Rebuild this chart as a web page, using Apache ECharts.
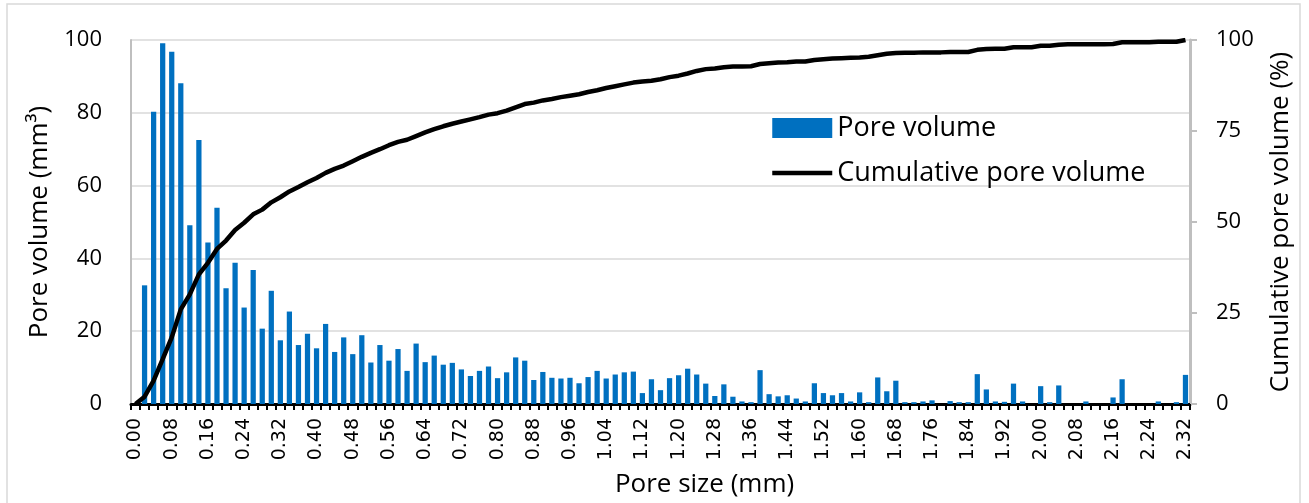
<!DOCTYPE html>
<html>
<head>
<meta charset="utf-8">
<script src="https://cdn.jsdelivr.net/npm/echarts@6/dist/echarts.min.js"></script>
<style>
  html, body { margin: 0; padding: 0; background: #fff; }
  #chart { width: 1309px; height: 503px; }
</style>
</head>
<body>
<div id="chart"></div>
<script>
// pore size classes (mm)
const poreSizes = [
  '0.00','0.02','0.04','0.06','0.08','0.10','0.12','0.14','0.16','0.18',
  '0.20','0.22','0.24','0.26','0.28','0.30','0.32','0.34','0.36','0.38',
  '0.40','0.42','0.44','0.46','0.48','0.50','0.52','0.54','0.56','0.58',
  '0.60','0.62','0.64','0.66','0.68','0.70','0.72','0.74','0.76','0.78',
  '0.80','0.82','0.84','0.86','0.88','0.90','0.92','0.94','0.96','0.98',
  '1.00','1.02','1.04','1.06','1.08','1.10','1.12','1.14','1.16','1.18',
  '1.20','1.22','1.24','1.26','1.28','1.30','1.32','1.34','1.36','1.38',
  '1.40','1.42','1.44','1.46','1.48','1.50','1.52','1.54','1.56','1.58',
  '1.60','1.62','1.64','1.66','1.68','1.70','1.72','1.74','1.76','1.78',
  '1.80','1.82','1.84','1.86','1.88','1.90','1.92','1.94','1.96','1.98',
  '2.00','2.02','2.04','2.06','2.08','2.10','2.12','2.14','2.16','2.18',
  '2.20','2.22','2.24','2.26','2.28','2.30','2.32'
];

// pore volume per class (mm3)
const poreVolume = [
  0, 32.6, 80.3, 99.1, 96.8, 88.1, 49.1, 72.5, 44.4, 53.9,
  31.8, 38.8, 26.5, 36.8, 20.7, 31.1, 17.5, 25.4, 16.2, 19.3,
  15.3, 22.0, 14.3, 18.3, 13.7, 18.9, 11.4, 16.2, 11.9, 15.1,
  9.1, 16.6, 11.5, 13.3, 10.8, 11.3, 9.5, 7.7, 9.1, 10.3,
  7.1, 8.7, 12.8, 11.9, 6.6, 8.8, 7.2, 7.0, 7.2, 5.7,
  7.4, 9.1, 7.0, 8.1, 8.7, 8.9, 3.0, 6.8, 3.8, 7.1,
  7.9, 9.7, 8.1, 5.6, 2.2, 5.4, 2.0, 0.7, 0.5, 9.3,
  2.7, 2.1, 2.4, 1.5, 0.7, 5.7, 3.0, 2.4, 3.0, 0.7,
  3.2, 0.5, 7.3, 3.5, 6.4, 0.5, 0.5, 0.7, 1.0, 0,
  0.8, 0.5, 0.5, 8.2, 4.0, 0.7, 0.6, 5.6, 0.7, 0,
  4.9, 0.5, 5.1, 0, 0, 0.7, 0, 0, 1.8, 6.8,
  0, 0, 0, 0.7, 0, 0.5, 8.0
];

// cumulative pore volume (%)
const cumulative = [
  0, 2.0, 6.4, 12.3, 18.3, 26.0, 30.1, 35.6, 38.8, 42.6,
  44.9, 47.8, 49.8, 52.1, 53.4, 55.4, 56.8, 58.4, 59.6, 60.9,
  62.1, 63.5, 64.6, 65.5, 66.7, 67.9, 69.0, 70.0, 71.1, 72.0,
  72.6, 73.6, 74.6, 75.5, 76.3, 77.0, 77.6, 78.2, 78.8, 79.5,
  79.9, 80.6, 81.5, 82.4, 82.8, 83.4, 83.8, 84.3, 84.7, 85.1,
  85.7, 86.2, 86.8, 87.3, 87.8, 88.3, 88.6, 88.8, 89.2, 89.8,
  90.2, 90.8, 91.5, 92.0, 92.2, 92.5, 92.7, 92.7, 92.8, 93.4,
  93.6, 93.8, 93.9, 94.1, 94.1, 94.5, 94.7, 94.9, 95.0, 95.1,
  95.2, 95.4, 95.8, 96.2, 96.4, 96.5, 96.5, 96.6, 96.6, 96.6,
  96.7, 96.7, 96.7, 97.3, 97.5, 97.6, 97.6, 98.0, 98.0, 98.0,
  98.4, 98.4, 98.7, 98.8, 98.8, 98.8, 98.8, 98.8, 98.9, 99.4,
  99.4, 99.4, 99.4, 99.5, 99.5, 99.5, 100
];

const FONT = '"Open Sans", "Noto Sans", sans-serif';
const GRID_GRAY = '#d9d9d9';
const AXIS_GRAY = '#bfbfbf';

const chart = echarts.init(document.getElementById('chart'), null, { renderer: 'canvas' });

chart.setOption({
  animation: false,
  backgroundColor: '#fff',
  textStyle: { fontFamily: FONT, color: '#000' },
  graphic: [{
    type: 'rect',
    shape: { x: 7, y: 4, width: 1293, height: 520 },
    style: { fill: 'none', stroke: GRID_GRAY, lineWidth: 1.5 },
    silent: true
  }],
  grid: { left: 131, right: 119, top: 40, bottom: 98 },
  legend: {
    orient: 'vertical',
    left: 765,
    top: 108,
    itemWidth: 60,
    itemHeight: 20,
    itemGap: 15,
    textStyle: { fontFamily: FONT, fontSize: 27, lineHeight: 30, color: '#000' },
    data: [
      { name: 'Pore volume', icon: 'rect' },
      {
        name: 'Cumulative pore volume',
        itemStyle: { opacity: 0 },
        lineStyle: { color: '#000', width: 4.5 }
      }
    ]
  },
  xAxis: {
    type: 'category',
    data: poreSizes,
    boundaryGap: true,
    name: 'Pore size (mm)',
    nameLocation: 'middle',
    nameGap: 68,
    nameTextStyle: { fontFamily: FONT, fontSize: 26, color: '#000', padding: [0, 0, 0, 88] },
    axisLine: { lineStyle: { color: '#000', width: 3 } },
    axisTick: { show: true, interval: 0, length: 6, lineStyle: { color: '#000', width: 2 } },
    axisLabel: {
      interval: 3,
      rotate: 90,
      margin: 14,
      fontFamily: '"DejaVu Sans", sans-serif',
      fontSize: 19,
      color: '#000'
    },
    splitLine: { show: false }
  },
  yAxis: [
    {
      type: 'value',
      min: 0,
      max: 100,
      interval: 20,
      name: 'Pore volume (mm³)',
      nameLocation: 'middle',
      nameGap: 78,
      nameRotate: 90,
      nameTextStyle: { fontFamily: FONT, fontSize: 26, color: '#000' },
      axisLine: { show: true, lineStyle: { color: AXIS_GRAY, width: 2 } },
      axisTick: { show: false },
      axisLabel: { margin: 29, fontFamily: FONT, fontSize: 22, color: '#000' },
      splitLine: { show: true, lineStyle: { color: GRID_GRAY, width: 1.5 } }
    },
    {
      type: 'value',
      min: 0,
      max: 100,
      interval: 25,
      name: 'Cumulative pore volume (%)',
      nameLocation: 'middle',
      nameGap: 78,
      nameRotate: 90,
      nameTextStyle: { fontFamily: FONT, fontSize: 26, color: '#000' },
      axisLine: { show: true, lineStyle: { color: AXIS_GRAY, width: 3 } },
      axisTick: { show: true, length: 7, lineStyle: { color: AXIS_GRAY, width: 2 } },
      axisLabel: { margin: 26, fontFamily: FONT, fontSize: 22, color: '#000' },
      splitLine: { show: false }
    }
  ],
  series: [
    {
      name: 'Pore volume',
      type: 'bar',
      yAxisIndex: 0,
      data: poreVolume,
      barCategoryGap: '42%',
      itemStyle: { color: '#0070C0' }
    },
    {
      name: 'Cumulative pore volume',
      type: 'line',
      yAxisIndex: 1,
      data: cumulative,
      symbol: 'none',
      lineStyle: { color: '#000', width: 4.5 },
      itemStyle: { color: '#000' },
      z: 3
    }
  ]
});

window.addEventListener('resize', () => chart.resize());
</script>
</body>
</html>
